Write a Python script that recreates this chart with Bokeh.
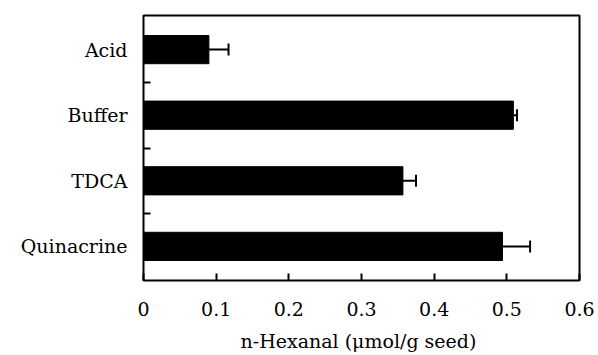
from bokeh.plotting import figure
from bokeh.models import Range1d, FixedTicker, Whisker, TeeHead, ColumnDataSource
from bokeh.embed import file_html
from bokeh.resources import INLINE

categories = ["Acid", "Buffer", "TDCA", "Quinacrine"]
values = [0.090, 0.509, 0.357, 0.494]
errors = [0.027, 0.005, 0.018, 0.038]
x_ticks = [0, 0.1, 0.2, 0.3, 0.4, 0.5, 0.6]
x_tick_labels = ["0", "0.1", "0.2", "0.3", "0.4", "0.5", "0.6"]
x_title = "n-Hexanal  (μmol/g seed)"

pos = list(range(len(categories)))
upper = [v + e for v, e in zip(values, errors)]
src = ColumnDataSource(dict(y=pos, right=values, upper=upper))

FONT = "DejaVu Serif"

p = figure(width=598, height=355, output_backend="svg", toolbar_location=None,
           x_range=Range1d(0, 0.6), y_range=Range1d(3.52, -0.52),
           min_border_left=143, min_border_right=19, min_border_top=15,
           min_border_bottom=75)
p.grid.visible = False
p.outline_line_color = "black"
p.outline_line_width = 2
p.background_fill_color = "white"

p.hbar(y="y", right="right", left=0, height=0.43, source=src,
       fill_color="black", line_color="black")
p.add_layout(Whisker(source=src, base="y", lower="right", upper="upper",
                     dimension="width", line_width=2, line_color="black",
                     lower_head=None,
                     upper_head=TeeHead(size=12, line_width=2, line_color="black")))

xa = p.xaxis[0]
xa.ticker = FixedTicker(ticks=x_ticks)
xa.major_label_overrides = {t: l for t, l in zip(x_ticks, x_tick_labels)}
xa.major_tick_in = 7
xa.major_tick_out = 0
xa.major_tick_line_width = 2
xa.minor_tick_line_color = None
xa.axis_line_color = None
xa.major_label_standoff = 21
xa.major_label_text_font = FONT
xa.major_label_text_font_size = "19px"
xa.major_label_text_color = "black"
xa.axis_label = x_title
xa.axis_label_text_font = FONT
xa.axis_label_text_font_style = "normal"
xa.axis_label_text_font_size = "19px"
xa.axis_label_text_color = "black"
xa.axis_label_standoff = 11

ya = p.yaxis[0]
ya.ticker = FixedTicker(ticks=pos, minor_ticks=[0.5, 1.5, 2.5])
ya.major_label_overrides = {i: c for i, c in zip(pos, categories)}
ya.major_tick_in = 0
ya.major_tick_out = 0
ya.minor_tick_in = 7
ya.minor_tick_out = 0
ya.minor_tick_line_width = 2
ya.axis_line_color = None
ya.major_label_standoff = 16
ya.major_label_text_font = FONT
ya.major_label_text_font_size = "19px"
ya.major_label_text_color = "black"

open("out.html", "w").write(file_html(p, INLINE))
